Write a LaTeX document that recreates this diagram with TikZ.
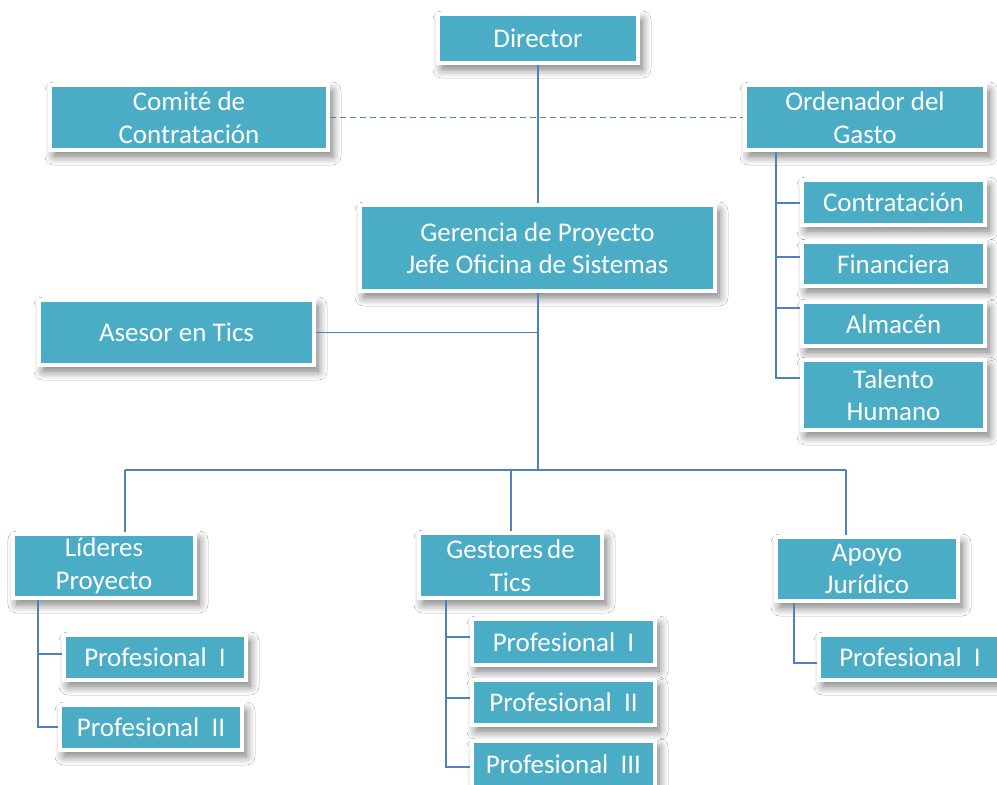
\documentclass[tikz,border=0pt]{standalone}
\usepackage{fontspec}
\setmainfont{Carlito}
\usetikzlibrary{shadows,shadows.blur}
\definecolor{boxfill}{HTML}{4BACC6}
\definecolor{linkcol}{HTML}{4F81BD}
\begin{document}
\begin{tikzpicture}[x=1pt,y=-1pt,
  box/.style={draw=white, line width=4pt, fill=boxfill, text=white, align=center,
    inner sep=0pt, font=\fontsize{27}{32.5}\selectfont,
    blur shadow={shadow xshift=4pt, shadow yshift=-6pt, shadow blur radius=9pt, shadow blur steps=12, shadow opacity=55}},
  link/.style={draw=linkcol, line width=1.4pt},
  dlink/.style={link, dash pattern=on 6pt off 4pt}]
\useasboundingbox (0,0) rectangle (997,785);
\fill[white] (0,0) rectangle (997,785);

\node[box, minimum width=200pt, minimum height=49pt] (dir) at (538,38.5) {Director};
\node[box, minimum width=278pt, minimum height=65pt] (com) at (189,117.5) {Comité de\\Contratación};
\node[box, minimum width=240pt, minimum height=65pt] (ord) at (865,117.5) {Ordenador del\\Gasto};
\node[box, minimum width=183pt, minimum height=45pt] (con) at (893.5,202.5) {Contratación};
\node[box, minimum width=183pt, minimum height=44pt] (fin) at (893.5,264) {Financiera};
\node[box, minimum width=183pt, minimum height=44pt] (alm) at (893.5,324) {Almacén};
\node[box, minimum width=183pt, minimum height=70pt] (tal) at (893.5,395) {Talento\\Humano};
\node[box, minimum width=355pt, minimum height=86pt] (ger) at (537.5,248) {Gerencia de Proyecto\\Jefe Oficina de Sistemas};
\node[box, minimum width=275pt, minimum height=65pt] (ase) at (176.5,332.5) {Asesor en Tics};
\node[box, minimum width=182pt, minimum height=64pt] (lid) at (104,566) {Líderes\\Proyecto};
\node[box, minimum width=182pt, minimum height=45pt] (lp1) at (155,657.5) {Profesional\ \ I};
\node[box, minimum width=182pt, minimum height=45pt] (lp2) at (151,727.5) {Profesional\ \ II};
\node[box, minimum width=183pt, minimum height=65pt] (ges) at (510.5,565.5) {Gestores\hspace{0.15em}de\\Tics};
\node[box, minimum width=183pt, minimum height=46pt] (gp1) at (563.5,642) {Profesional\ \ I};
\node[box, minimum width=183pt, minimum height=45pt] (gp2) at (563.5,702.5) {Profesional\ \ II};
\node[box, minimum width=183pt, minimum height=46pt] (gp3) at (563.5,764) {Profesional\ \ III};
\node[box, minimum width=182pt, minimum height=64pt] (apo) at (867,569) {Apoyo\\Jurídico};
\node[box, minimum width=182pt, minimum height=45pt] (ap1) at (910,657.5) {Profesional\ \ I};

% main spine
\coordinate (hub) at (538,470);
\coordinate (bl) at (125,470);
\coordinate (bm) at (511,470);
\coordinate (br) at (846,470);
\draw[link] (dir.south) -- (dir.south |- ger.north);
\draw[link] (ger.south -| hub) -- (hub);
\draw[link] (ase.east) -- (ase.east -| hub);
\draw[dlink] (com.east) -- (ord.west);
\draw[link] (bl) -- (br);
\draw[link] (bl) -- (bl |- lid.north);
\draw[link] (bm) -- (bm |- ges.north);
\draw[link] (br) -- (br |- apo.north);

% Ordenador tree
\coordinate (ot) at (776,152);
\coordinate (oc) at (776,203);
\coordinate (of) at (776,257);
\coordinate (oa) at (776,308);
\coordinate (oh) at (776,378);
\draw[link] (ot) -- (oh) -- (oh -| tal.west);
\draw[link] (oc) -- (oc -| con.west);
\draw[link] (of) -- (of -| fin.west);
\draw[link] (oa) -- (oa -| alm.west);

% Lideres tree
\coordinate (lt) at (38,600);
\coordinate (l1) at (38,654);
\coordinate (l2) at (38,727);
\draw[link] (lt) -- (l2) -- (l2 -| lp2.west);
\draw[link] (l1) -- (l1 -| lp1.west);

% Gestores tree
\coordinate (gt) at (446,600);
\coordinate (g1) at (446,637);
\coordinate (g2) at (446,698);
\coordinate (g3) at (446,767);
\draw[link] (gt) -- (g3) -- (g3 -| gp3.west);
\draw[link] (g1) -- (g1 -| gp1.west);
\draw[link] (g2) -- (g2 -| gp2.west);

% Apoyo tree
\coordinate (at) at (794,603);
\coordinate (a1) at (794,663);
\draw[link] (at) -- (a1) -- (a1 -| ap1.west);
\end{tikzpicture}
\end{document}
